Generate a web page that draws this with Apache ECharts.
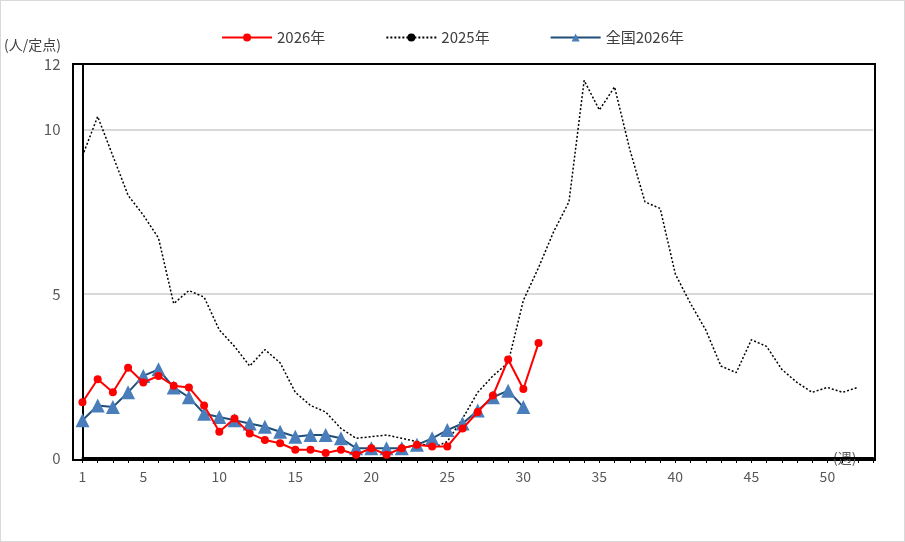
<!DOCTYPE html>
<html><head><meta charset="utf-8">
<script src="https://cdn.jsdelivr.net/npm/echarts@6/dist/echarts.min.js"></script>
<style>body{margin:0}#c{width:903px;height:540px;border:1px solid #d9d9d9}</style>
</head><body><div id="c"></div>
<script>
let weeks = [];
for (let i = 1; i < 53; i++) weeks.push(i);
let data2025 = [9.2,10.4,9.2,8.0,7.4,6.7,4.7,5.1,4.9,3.9,3.4,2.8,3.3,2.9,2.0,1.6,1.4,0.9,0.6,0.65,0.7,0.6,0.5,0.3,0.5,1.2,2.0,2.5,2.9,4.8,5.8,6.9,7.8,11.5,10.6,11.3,9.4,7.8,7.6,5.6,4.7,3.9,2.8,2.6,3.6,3.4,2.7,2.3,2.0,2.15,2.0,2.15];
let data2026 = [1.7,2.4,2.0,2.75,2.3,2.5,2.2,2.15,1.6,0.8,1.2,0.75,0.55,0.45,0.25,0.25,0.15,0.25,0.1,0.3,0.1,0.3,0.4,0.35,0.35,0.9,1.4,1.9,3.0,2.1,3.5];
let dataNational = [1.15,1.6,1.55,2.0,2.5,2.7,2.15,1.85,1.35,1.25,1.15,1.05,0.95,0.8,0.65,0.7,0.7,0.6,0.3,0.3,0.3,0.3,0.4,0.6,0.85,1.05,1.45,1.85,2.05,1.55];
let xLabels = [1,5,10,15,20,25,30,35,40,45,50];

function pairs(arr){ return arr.map((v,i)=>[weeks[i],v]); }

let myChart = echarts.init(document.getElementById('c'));
let font = 'Noto Sans CJK JP';
let option = {
    animation: false,
    textStyle: {fontFamily: font},
    legend: {
        top: 24, left: 'center', itemGap: 60, itemWidth: 50, itemHeight: 10,
        textStyle: {fontSize: 15, color: '#404040', fontFamily: font},
        data: ['2026年','2025年','全国2026年']
    },
    grid: {left: 72, right: 31, top: 63, bottom: 83},
    xAxis: {
        type: 'value', min: 1, max: 53, interval: 1,
        name: '(週)', nameLocation: 'end', nameGap: 0,
        nameTextStyle: {color: '#595959', fontSize: 14, padding: [50, 0, 0, -40]},
        axisLine: {show: true, lineStyle: {color: '#000', width: 2}},
        axisTick: {show: true, length: 5, inside: false, lineStyle: {color: '#000'}},
        axisLabel: {color: '#595959', fontSize: 14, margin: 12,
            formatter: v => xLabels.indexOf(v) >= 0 ? String(v) : ''},
        splitLine: {show: false}
    },
    yAxis: {
        type: 'value', min: 0, max: 12, interval: 5,
        name: '(人/定点)', nameLocation: 'end', nameGap: 12,
        nameTextStyle: {color: '#404040', fontSize: 14, padding: [0, 0, 0, -100]},
        axisLine: {show: true, lineStyle: {color: '#000', width: 2}},
        axisTick: {show: false},
        axisLabel: {color: '#595959', fontSize: 15, margin: 22},
        splitLine: {lineStyle: {color: '#d9d9d9', width: 2}}
    },
    series: [
        {name: '2026年', type: 'line', data: pairs(data2026), z: 4,
         symbol: 'circle', symbolSize: 8, color: '#ff0000',
         lineStyle: {color: '#ff0000', width: 2}},
        {name: '2025年', type: 'line', data: pairs(data2025), z: 2,
         symbol: 'none', color: '#000',
         lineStyle: {color: '#000', width: 1.5, type: [2, 2]}},
        {name: '全国2026年', type: 'line', data: pairs(dataNational), z: 3,
         symbol: 'triangle', symbolSize: 14, color: '#4a7ebb',
         itemStyle: {color: '#4a7ebb'},
         lineStyle: {color: '#1f4e79', width: 2}}
    ]
};
// borders on top and right of plot
option.series.push({type: 'line', data: [], markLine: {}});
myChart.setOption(option);
myChart.setOption({graphic: [{type: 'rect', shape: {x: 72, y: 63, width: 802, height: 396},
    style: {fill: 'none', stroke: '#000', lineWidth: 2}, silent: true}]});
</script></body></html>
